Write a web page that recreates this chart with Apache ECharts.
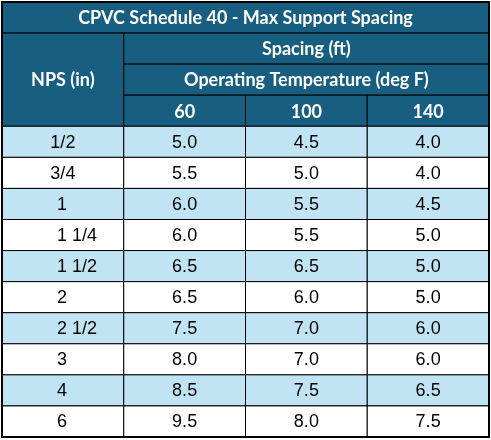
<!DOCTYPE html>
<html><head><meta charset="utf-8">
<script src="https://cdn.jsdelivr.net/npm/echarts@6/dist/echarts.min.js"></script>
<style>html,body{margin:0;padding:0;background:#fff}#c{width:491px;height:440px}</style>
</head><body><div id="c"></div>
<script>
const title = 'CPVC Schedule 40 - Max Support Spacing';
const nps = ['1/2','3/4','1','1 1/4','1 1/2','2','2 1/2','3','4','6'];
const temps = ['60','100','140'];
const t60 = [5.0,5.5,6.0,6.0,6.5,6.5,7.5,8.0,8.5,9.5];
const t100 = [4.5,5.0,5.5,5.5,6.5,6.0,7.0,7.0,7.5,8.0];
const t140 = [4.0,4.0,4.5,5.0,5.0,5.0,6.0,6.0,6.5,7.5];

const HDR = '#175e80', LIGHT = '#c0e4f4';
const cells = [];
cells.push([0,0,4,1,title,'h','c']);
cells.push([0,1,1,3,'NPS (in)','h','c']);
cells.push([1,1,3,1,'Spacing (ft)','h','c']);
cells.push([1,2,3,1,'Operating Temperature (deg F)','h','c']);
temps.forEach((t,i)=>cells.push([1+i,3,1,1,t,'h','c']));
const cols=[t60,t100,t140];
nps.forEach((n,r)=>{
  const kind = r%2===0 ? 'l' : 'w';
  cells.push([0,4+r,1,1,n,kind, r<2?'c':'L']);
  cols.forEach((arr,i)=>cells.push([1+i,4+r,1,1,arr[r].toFixed(1),kind,'c']));
});

const chart = echarts.init(document.getElementById('c'));
chart.setOption({
  animation:false,
  grid:{left:2,right:2,top:2,bottom:3},
  xAxis:{type:'category',data:[0,1,2,3],show:false},
  yAxis:{type:'category',data:[...Array(14).keys()],inverse:true,show:false},
  series:[{
    type:'custom',
    data:cells,
    encode:{x:0,y:1},
    renderItem:(params,api)=>{
      const c=api.value(0), r=api.value(1), cs=api.value(2), rs=api.value(3);
      const d = cells[params.dataIndex];
      const p=api.coord([c,r]); const s=api.size([1,1]);
      const x=p[0]-s[0]/2, y=p[1]-s[1]/2, w=s[0]*cs, h=s[1]*rs;
      const hdr=d[5]==='h';
      const fill = hdr?HDR:(d[5]==='l'?LIGHT:'#ffffff');
      const tx = d[6]==='L' ? x+55 : x+w/2;
      return {type:'group',children:[
        {type:'rect',shape:{x,y,width:w,height:h},style:{fill,stroke:'#000',lineWidth:1}},
        {type:'text',style:{x:tx,y:y+h/2+1,text:d[4],fill:hdr?'#fff':'#000',
          font:hdr?'bold 18px Lato, "Open Sans", sans-serif':'18px "Liberation Sans", Arial, sans-serif',
          align:d[6]==='L'?'left':'center',verticalAlign:'middle'}}
      ]};
    }
  }],
  graphic:[{type:'rect',shape:{x:2,y:2,width:487,height:435},style:{fill:'none',stroke:'#000',lineWidth:2},z:100}]
});
</script></body></html>
